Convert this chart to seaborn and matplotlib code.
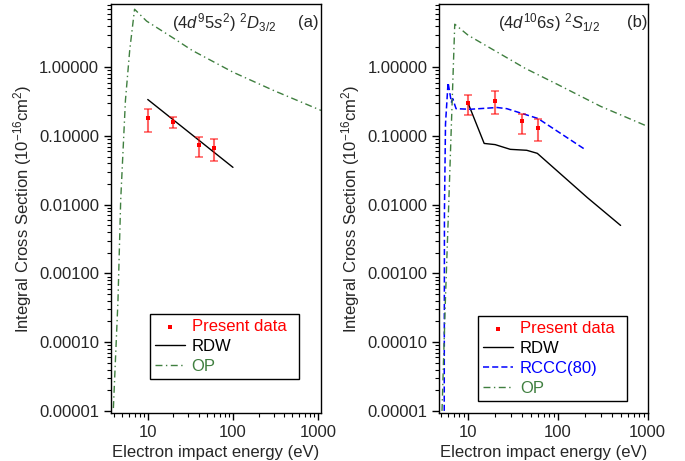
import numpy as np
import matplotlib
matplotlib.use('Agg')
import matplotlib.pyplot as plt
from matplotlib.ticker import FixedLocator, NullFormatter
import seaborn as sns

# panel (a): (4d9 5s2) 2D3/2
exp_a_x = [10, 20, 40, 60]
exp_a_y = [0.18, 0.158, 0.075, 0.068]
exp_a_lo = [0.113, 0.133, 0.049, 0.044]
exp_a_hi = [0.245, 0.187, 0.098, 0.092]

rdw_a_x = [10, 100]
rdw_a_y = [0.34, 0.035]

op_a_x = [3.95, 4.47, 4.81, 5.47, 6.14, 7.0, 9.7, 20, 33, 100, 300, 1080]
op_a_y = [1.1e-5, 4e-4, 0.0115, 0.33, 1.77, 7.0, 4.7, 2.66, 1.77, 0.85, 0.46, 0.236]

# panel (b): (4d10 6s) 2S1/2
exp_b_x = [10, 20, 40, 60]
exp_b_y = [0.30, 0.32, 0.163, 0.13]
exp_b_lo = [0.20, 0.21, 0.106, 0.086]
exp_b_hi = [0.40, 0.45, 0.21, 0.175]

rdw_b_x = [10, 15.1, 20, 29.5, 45, 59, 213, 500]
rdw_b_y = [0.30, 0.078, 0.075, 0.064, 0.062, 0.056, 0.0127, 0.005]

rccc_b_x = [5.42, 5.45, 5.6, 5.98, 6.51, 6.74, 7.34, 10.5, 21, 27, 60, 200]
rccc_b_y = [1e-5, 0.008, 0.15, 0.6, 0.31, 0.35, 0.25, 0.245, 0.26, 0.25, 0.18, 0.064]

op_b_x = [5.12, 5.58, 6.05, 7.1, 10, 43, 100, 300, 1000]
op_b_y = [1e-5, 4e-4, 0.0083, 4.24, 2.93, 0.97, 0.56, 0.27, 0.138]

green = '#3f7f3f'

sns.set_style('ticks')
plt.rcParams['font.family'] = ['Liberation Sans', 'DejaVu Sans']
plt.rcParams['mathtext.fontset'] = 'custom'
plt.rcParams['mathtext.rm'] = 'Liberation Sans'
plt.rcParams['mathtext.it'] = 'Liberation Sans:italic'
plt.rcParams['font.size'] = 12

fig = plt.figure(figsize=(6.85, 4.61), dpi=100)
ax1 = fig.add_axes([0.162, 0.104, 0.3066, 0.887])
ax2 = fig.add_axes([0.641, 0.104, 0.305, 0.887])

# log minor tick positions (2..9 in every decade)
minor_pos = [k * 10.0 ** e for e in range(-6, 4) for k in range(2, 10)]


def draw_exp(ax, x, y, lo, hi):
    yerr = [np.array(y) - np.array(lo), np.array(hi) - np.array(y)]
    ax.errorbar(x, y, yerr=yerr, fmt='none', ecolor='red', alpha=0.6,
                elinewidth=1.5, capsize=3, capthick=1.2, zorder=3)
    sns.scatterplot(x=x, y=y, marker='s', color='red', s=12, linewidth=0,
                    ax=ax, label='Present data', zorder=4)


def style_axis(ax, xlim):
    ax.set_xscale('log')
    ax.set_yscale('log')
    ax.set_xlim(*xlim)
    ax.set_ylim(9.3e-6, 8.3)
    ax.set_yticks([1e-5, 1e-4, 1e-3, 1e-2, 1e-1, 1])
    ax.set_yticklabels(['0.00001', '0.00010', '0.00100', '0.01000', '0.10000', '1.00000'])
    ax.set_xticks([10, 100, 1000])
    ax.set_xticklabels(['10', '100', '1000'])
    ax.xaxis.set_minor_locator(FixedLocator(minor_pos))
    ax.yaxis.set_minor_locator(FixedLocator(minor_pos))
    ax.xaxis.set_minor_formatter(NullFormatter())
    ax.yaxis.set_minor_formatter(NullFormatter())
    ax.tick_params(which='major', length=5, width=1, direction='out', labelsize=12,
                   color='black')
    ax.tick_params(which='minor', length=2.8, width=0.8, direction='out',
                   color='black', bottom=True, left=True)
    for s in ax.spines.values():
        s.set_linewidth(1)
        s.set_color('black')
    ax.set_xlabel('Electron impact energy (eV)', fontsize=12)
    ax.set_ylabel('Integral Cross Section (10$^{-16}$cm$^2$)', fontsize=12)


def add_legend(ax, order, anchor):
    handles, labels = ax.get_legend_handles_labels()
    lookup = dict(zip(labels, handles))
    leg = ax.legend([lookup[k] for k in order], order, loc='lower left',
                    bbox_to_anchor=anchor, mode='expand', fontsize=12,
                    frameon=True, fancybox=False, edgecolor='black',
                    framealpha=1, handlelength=1.8, handletextpad=0.4,
                    borderpad=0.3, labelspacing=0.3, borderaxespad=0,
                    scatterpoints=1, markerscale=0.8)
    leg.get_frame().set_linewidth(1)
    colors = {'Present data': 'red', 'RDW': 'black', 'RCCC(80)': 'blue', 'OP': green}
    for t in leg.get_texts():
        t.set_color(colors[t.get_text()])


# panel (a)
draw_exp(ax1, exp_a_x, exp_a_y, exp_a_lo, exp_a_hi)
sns.lineplot(x=rdw_a_x, y=rdw_a_y, ax=ax1, color='black', lw=1,
             estimator=None, sort=False, label='RDW')
sns.lineplot(x=op_a_x, y=op_a_y, ax=ax1, color=green, lw=1,
             linestyle=(0, (5, 2.5, 1, 2.5)), estimator=None, sort=False, label='OP')
style_axis(ax1, (3.7, 1080))
ax1.text(0.29, 0.956, r'(4$d^9$5$s^2$) $^2D_{3/2}$', transform=ax1.transAxes,
         fontsize=12, va='center', ha='left')
ax1.text(0.89, 0.956, '(a)', transform=ax1.transAxes, fontsize=12, va='center', ha='left')
add_legend(ax1, ['Present data', 'RDW', 'OP'], (0.186, 0.083, 0.709, 0.161))

# panel (b)
draw_exp(ax2, exp_b_x, exp_b_y, exp_b_lo, exp_b_hi)
sns.lineplot(x=rdw_b_x, y=rdw_b_y, ax=ax2, color='black', lw=1,
             estimator=None, sort=False, label='RDW')
sns.lineplot(x=rccc_b_x, y=rccc_b_y, ax=ax2, color='blue', lw=1.1,
             linestyle=(0, (4, 2)), estimator=None, sort=False, label='RCCC(80)')
sns.lineplot(x=op_b_x, y=op_b_y, ax=ax2, color=green, lw=1,
             linestyle=(0, (5, 2.5, 1, 2.5)), estimator=None, sort=False, label='OP')
style_axis(ax2, (4.75, 1010))
ax2.text(0.282, 0.956, r'(4$d^{10}$6$s$) $^2S_{1/2}$', transform=ax2.transAxes,
         fontsize=12, va='center', ha='left')
ax2.text(0.9, 0.956, '(b)', transform=ax2.transAxes, fontsize=12, va='center', ha='left')
add_legend(ax2, ['Present data', 'RDW', 'RCCC(80)', 'OP'], (0.187, 0.029, 0.713, 0.215))

fig.savefig('out.png', dpi=100)
